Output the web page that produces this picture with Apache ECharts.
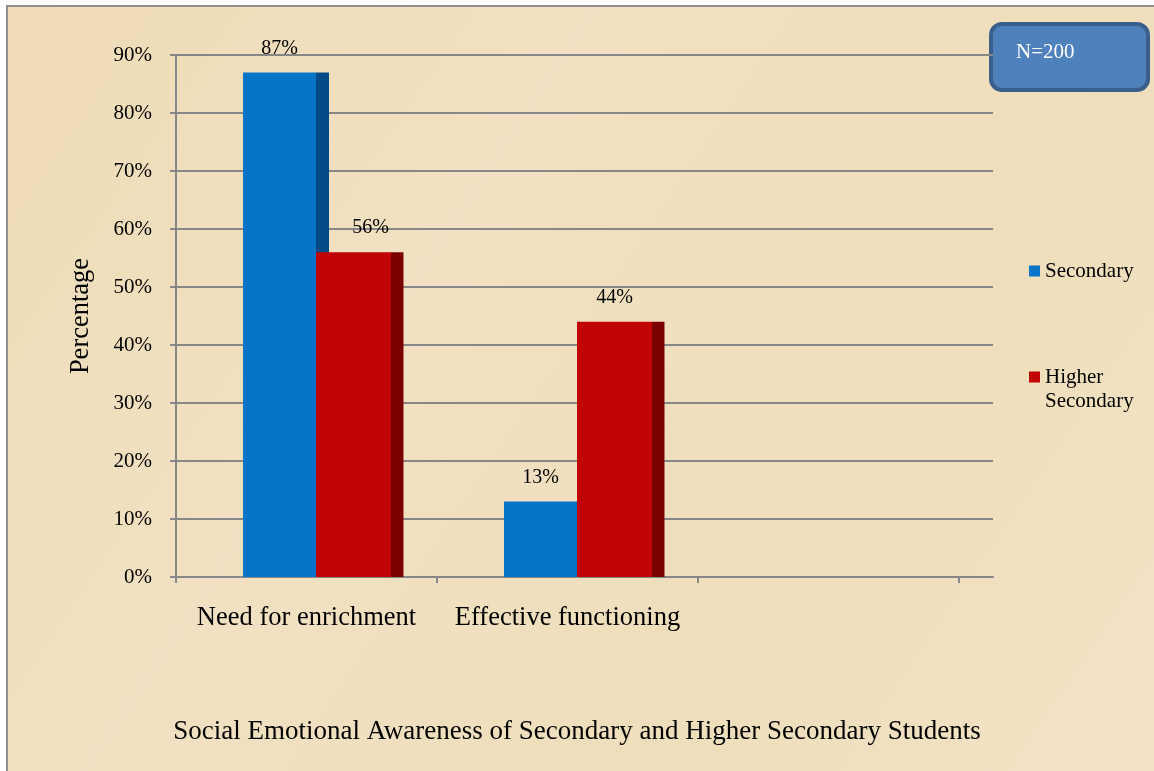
<!DOCTYPE html>
<html>
<head>
<meta charset="utf-8">
<style>
html,body{margin:0;padding:0;background:#fff;}
#chart{width:1154px;height:771px;}
</style>
<script src="https://cdn.jsdelivr.net/npm/echarts@6/dist/echarts.min.js"></script>
</head>
<body>
<div id="chart"></div>
<script>
// ---- data ----
const categories = ['Need for enrichment', 'Effective functioning', ''];
const seriesNames = ['Secondary', 'Higher Secondary'];
const secondary = [87, 13];
const higherSecondary = [56, 44];
const yMin = 0, yMax = 90, yStep = 10;
const noteText = 'N=200';
const titleText = 'Social Emotional Awareness of Secondary and Higher Secondary Students';
const yAxisTitle = 'Percentage';

// ---- styles ----
const FONT = '"Liberation Serif", "Times New Roman", serif';
const GRID_COLOR = '#878787';
const BLUE = '#0774c8', BLUE_SIDE = '#034b86';
const RED = '#c10505', RED_SIDE = '#7b0000';

function makeRender(fL, fR, fS, front, side, labelShift) {
  return function (params, api) {
    const i = api.value(0), v = api.value(1);
    const top = api.coord([i, v]);
    const base = api.coord([i, 0]);
    const bw = api.size([1, 0])[0];
    const cx = top[0];
    const x0 = cx + fL * bw, x1 = cx + fR * bw, x2 = cx + fS * bw;
    const h = base[1] - top[1];
    const lx = (x0 + x1) / 2 + (labelShift[params.dataIndex] || 0);
    return {
      type: 'group',
      children: [
        { type: 'rect', shape: { x: x0, y: top[1], width: x1 - x0, height: h }, style: { fill: front } },
        { type: 'rect', shape: { x: x1, y: top[1], width: x2 - x1, height: h }, style: { fill: side } },
        { type: 'text', x: lx, y: top[1] - 24,
          style: { text: v + '%', fontFamily: FONT, fontSize: 20, fill: '#000', align: 'center', verticalAlign: 'middle' } }
      ]
    };
  };
}

const chart = echarts.init(document.getElementById('chart'), null, { renderer: 'canvas' });
const option = {
  animation: false,
  backgroundColor: '#ffffff',
  graphic: {
    elements: [
      {
        type: 'rect', z: -100, silent: true,
        shape: { x: 7, y: 6, width: 1160, height: 780 },
        style: {
          fill: new echarts.graphic.LinearGradient(0, 0, 1, 1, [
            { offset: 0, color: '#eedcb6' },
            { offset: 0.35, color: '#f1e1c2' },
            { offset: 0.7, color: '#efdebb' },
            { offset: 1, color: '#f3e4c7' }
          ]),
          stroke: '#8f8f8f', lineWidth: 2
        }
      },
      {
        type: 'group', z: 50, left: 989, top: 22,
        children: [
          { type: 'rect', shape: { x: 0, y: 0, width: 157, height: 66, r: 11 },
            style: { fill: '#4f81bd', stroke: '#3a5f8c', lineWidth: 4 } },
          { type: 'text', x: 25, y: 28,
            style: { text: noteText, fontFamily: FONT, fontSize: 21, fill: '#ffffff', verticalAlign: 'middle' } }
        ]
      }
    ]
  },
  title: {
    text: titleText,
    left: 'center', top: 713,
    textStyle: { fontFamily: FONT, fontSize: 27, fontWeight: 'normal', color: '#000' }
  },
  legend: [
    {
      data: [seriesNames[0]],
      orient: 'vertical', left: 1024, top: 254,
      itemWidth: 11, itemHeight: 11, icon: 'rect',
      textStyle: { fontFamily: FONT, fontSize: 21, color: '#000', lineHeight: 24 }
    },
    {
      data: [seriesNames[1]],
      orient: 'vertical', left: 1024, top: 336,
      itemWidth: 11, itemHeight: 11, icon: 'rect',
      formatter: function (n) { return ' \n' + n.replace(' ', '\n'); },
      textStyle: { fontFamily: FONT, fontSize: 21, color: '#000', lineHeight: 24 }
    }
  ],
  grid: [
    { left: 176, top: 55, width: 817, height: 522 },
    { left: 176, top: 55, width: 783, height: 522 }
  ],
  xAxis: [
    {
      gridIndex: 0, type: 'value', min: 0, max: 1,
      axisLine: { show: true, lineStyle: { color: GRID_COLOR, width: 2 } },
      axisTick: { show: false }, axisLabel: { show: false }, splitLine: { show: false }
    },
    {
      gridIndex: 1, type: 'category', data: categories, boundaryGap: true,
      axisLine: { show: true, lineStyle: { color: GRID_COLOR, width: 2 } },
      axisTick: { show: true, interval: 0, length: 6, lineStyle: { color: GRID_COLOR, width: 2 } },
      axisLabel: { interval: 0, margin: 28, fontFamily: FONT, fontSize: 26.5, color: '#000' },
      splitLine: { show: false }
    }
  ],
  yAxis: [
    {
      gridIndex: 0, type: 'value', min: yMin, max: yMax, interval: yStep,
      name: yAxisTitle, nameLocation: 'middle', nameRotate: 90, nameGap: 81,
      nameTextStyle: { fontFamily: FONT, fontSize: 26.5, color: '#000' },
      axisLine: { show: true, lineStyle: { color: GRID_COLOR, width: 2 } },
      axisTick: { show: true, length: 6, lineStyle: { color: GRID_COLOR, width: 2 } },
      axisLabel: { formatter: '{value}%', margin: 24, fontFamily: FONT, fontSize: 21, color: '#000' },
      splitLine: { show: true, lineStyle: { color: GRID_COLOR, width: 2 } }
    },
    {
      gridIndex: 1, type: 'value', min: yMin, max: yMax, interval: yStep, show: false,
      splitLine: { show: false }
    }
  ],
  series: [
    {
      name: seriesNames[0], type: 'custom', xAxisIndex: 1, yAxisIndex: 1,
      itemStyle: { color: BLUE },
      renderItem: makeRender(-0.2433, 0.0364, 0.0862, BLUE, BLUE_SIDE, []),
      data: secondary.map((v, i) => [i, v])
    },
    {
      name: seriesNames[1], type: 'custom', xAxisIndex: 1, yAxisIndex: 1,
      itemStyle: { color: RED },
      renderItem: makeRender(0.0364, 0.3238, 0.3716, RED, RED_SIDE, [17, 0]),
      data: higherSecondary.map((v, i) => [i, v])
    }
  ]
};
chart.setOption(option);
</script>
</body>
</html>
